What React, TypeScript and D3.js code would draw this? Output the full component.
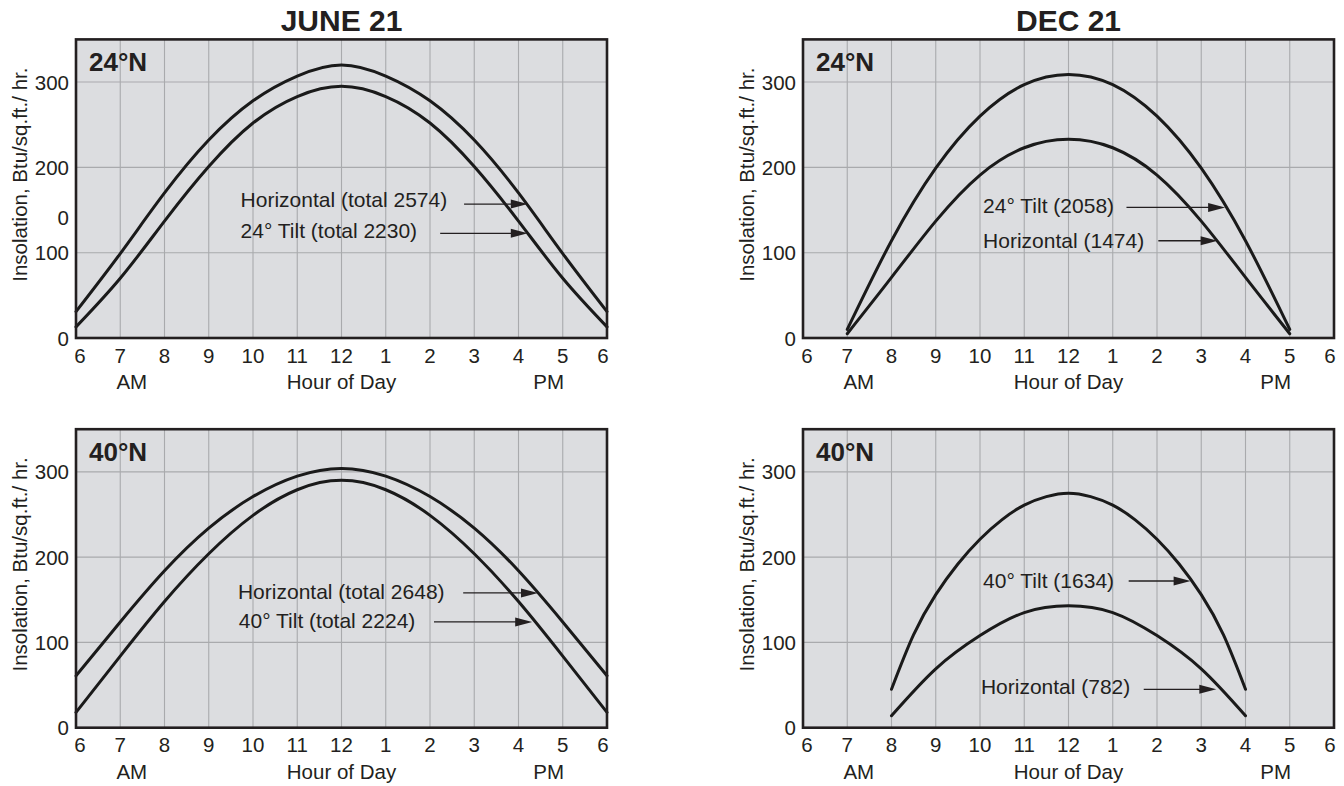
import React from "react";
import * as d3 from "d3";

// ---------- DATA ----------
const HOURS_FULL = [6, 7, 8, 9, 10, 11, 12, 13, 14, 15, 16, 17, 18];
const HOUR_LABELS = ["6", "7", "8", "9", "10", "11", "12", "1", "2", "3", "4", "5", "6"];
const Y_TICKS = [0, 100, 200, 300];

const june24Hours = [6, 7, 8, 9, 10, 11, 12, 13, 14, 15, 16, 17, 18];
const june24Horizontal = [31, 99, 170, 232, 278, 307, 320, 307, 278, 232, 170, 99, 31];
const june24Tilt = [13, 70, 137, 201, 252, 283, 295, 283, 252, 201, 137, 70, 13];

const dec24Hours = [7, 8, 9, 10, 11, 12, 13, 14, 15, 16, 17];
const dec24Tilt = [10, 114, 199, 260, 297, 309, 297, 260, 199, 114, 10];
const dec24Horizontal = [5, 71, 137, 191, 223, 233, 223, 191, 137, 71, 5];

const june40Hours = [6, 7, 8, 9, 10, 11, 12, 13, 14, 15, 16, 17, 18];
const june40Horizontal = [61, 124, 184, 234, 271, 295, 304, 295, 271, 234, 184, 124, 61];
const june40Tilt = [18, 84, 148, 204, 249, 279, 290, 279, 249, 204, 148, 84, 18];

const dec40TiltHours = [8, 8.5, 9, 9.5, 10, 10.5, 11, 11.5, 12, 12.5, 13, 13.5, 14, 14.5, 15, 15.5, 16];
const dec40Tilt = [45, 109, 156, 192, 221, 244, 261, 271, 275, 271, 261, 244, 221, 192, 156, 109, 45];
const dec40HorizontalHours = [8, 9, 10, 11, 12, 13, 14, 15, 16];
const dec40Horizontal = [14, 69, 108, 135, 143, 135, 108, 69, 14];

const COLUMN_TITLES = ["JUNE 21", "DEC 21"];
const Y_TITLE = "Insolation, Btu/sq.ft./ hr.";
const X_TITLE = "Hour of Day";

// ---------- LAYOUT ----------
const FONT = "'Liberation Sans', Arial, Helvetica, sans-serif";
const TEXT = "#231f20";
const COLS = [
  { x0: 76, x1: 607 },
  { x0: 803, x1: 1334 },
];
const ROWS = [
  { y0: 39.4, y1: 338 },
  { y0: 429.2, y1: 727.7 },
];

type Ann = { text: string; th: number; tv: number; a0: number; a1: number; av: number };
type Panel = {
  col: number;
  row: number;
  label: string;
  series: { hours: number[]; values: number[] }[];
  anns: Ann[];
  extraTicks?: { value: number; text: string }[];
};

const panels: Panel[] = [
  {
    col: 0,
    row: 0,
    label: "24°N",
    series: [
      { hours: june24Hours, values: june24Horizontal },
      { hours: june24Hours, values: june24Tilt },
    ],
    anns: [
      { text: "Horizontal (total 2574)", th: 9.72, tv: 153, a0: 14.77, a1: 16.21, av: 157 },
      { text: "24° Tilt (total 2230)", th: 9.72, tv: 117, a0: 14.23, a1: 16.21, av: 122.7 },
    ],
    extraTicks: [{ value: 141, text: "0" }],
  },
  {
    col: 1,
    row: 0,
    label: "24°N",
    series: [
      { hours: dec24Hours, values: dec24Tilt },
      { hours: dec24Hours, values: dec24Horizontal },
    ],
    anns: [
      { text: "24° Tilt (2058)", th: 10.07, tv: 146, a0: 13.31, a1: 15.54, av: 153 },
      { text: "Horizontal (1474)", th: 10.07, tv: 105, a0: 14.03, a1: 15.37, av: 114 },
    ],
  },
  {
    col: 0,
    row: 1,
    label: "40°N",
    series: [
      { hours: june40Hours, values: june40Horizontal },
      { hours: june40Hours, values: june40Tilt },
    ],
    anns: [
      { text: "Horizontal (total 2648)", th: 9.66, tv: 151, a0: 14.75, a1: 16.44, av: 158 },
      { text: "40° Tilt (total 2224)", th: 9.68, tv: 116.5, a0: 14.09, a1: 16.31, av: 124 },
    ],
  },
  {
    col: 1,
    row: 1,
    label: "40°N",
    series: [
      { hours: dec40TiltHours, values: dec40Tilt },
      { hours: dec40HorizontalHours, values: dec40Horizontal },
    ],
    anns: [
      { text: "40° Tilt (1634)", th: 10.07, tv: 164, a0: 13.36, a1: 14.76, av: 172 },
      { text: "Horizontal (782)", th: 10.02, tv: 40, a0: 13.7, a1: 15.34, av: 45 },
    ],
  },
];

function PanelView({ p }: { p: Panel }) {
  const c = COLS[p.col];
  const r = ROWS[p.row];
  const x = d3.scaleLinear().domain([6, 18]).range([c.x0, c.x1]);
  const y = d3.scaleLinear().domain([0, 350]).range([r.y1, r.y0]);
  const line = d3
    .line<[number, number]>()
    .x((d) => x(d[0]))
    .y((d) => y(d[1]))
    .curve(d3.curveNatural);

  const ticks = [...Y_TICKS.map((v) => ({ value: v, text: String(v) })), ...(p.extraTicks || [])];

  return (
    <g>
      <rect x={c.x0} y={r.y0} width={c.x1 - c.x0} height={r.y1 - r.y0} fill="#dcdde0" />
      {HOURS_FULL.slice(1, -1).map((h) => (
        <line key={"v" + h} x1={x(h)} x2={x(h)} y1={r.y0} y2={r.y1} stroke="#a9aaad" strokeWidth={1.1} />
      ))}
      {Y_TICKS.slice(1).map((v) => (
        <line key={"h" + v} x1={c.x0} x2={c.x1} y1={y(v)} y2={y(v)} stroke="#a9aaad" strokeWidth={1.1} />
      ))}
      {p.series.map((s, i) => (
        <path
          key={"s" + i}
          d={line(s.hours.map((h, k) => [h, s.values[k]] as [number, number])) || ""}
          fill="none"
          stroke="#1a1a1a"
          strokeWidth={3}
          strokeLinecap="round"
        />
      ))}
      {p.anns.map((a, i) => {
        const ay = y(a.av);
        const xe = x(a.a1);
        const L = 17;
        const W = 4.5;
        return (
          <g key={"a" + i}>
            <text x={x(a.th)} y={y(a.tv)} fontSize={21} fill={TEXT} fontFamily={FONT}>
              {a.text}
            </text>
            <line x1={x(a.a0)} x2={xe - L + 1} y1={ay} y2={ay} stroke="#231f20" strokeWidth={1.3} />
            <polygon points={`${xe},${ay} ${xe - L},${ay - W} ${xe - L},${ay + W}`} fill="#231f20" />
          </g>
        );
      })}
      <rect
        x={c.x0}
        y={r.y0}
        width={c.x1 - c.x0}
        height={r.y1 - r.y0}
        fill="none"
        stroke="#231f20"
        strokeWidth={2.6}
      />
      <text x={c.x0 + 13} y={r.y0 + 31.5} fontSize={26} fontWeight="bold" fill={TEXT} fontFamily={FONT}>
        {p.label}
      </text>
      {ticks.map((t, i) => (
        <text
          key={"yt" + i}
          x={c.x0 - 7}
          y={y(t.value) + 7.5}
          textAnchor="end"
          fontSize={20.5}
          fill={TEXT}
          fontFamily={FONT}
        >
          {t.text}
        </text>
      ))}
      {HOURS_FULL.map((h, i) => (
        <text
          key={"xt" + h}
          x={x(h) + (i === 0 ? 4 : i === HOURS_FULL.length - 1 ? -4 : 0)}
          y={r.y1 + 24.5}
          textAnchor="middle"
          fontSize={20.5}
          fill={TEXT}
          fontFamily={FONT}
        >
          {HOUR_LABELS[i]}
        </text>
      ))}
      <text x={x(7.26)} y={r.y1 + 51} textAnchor="middle" fontSize={20.5} fill={TEXT} fontFamily={FONT}>
        AM
      </text>
      <text x={x(12)} y={r.y1 + 51} textAnchor="middle" fontSize={20.5} fill={TEXT} fontFamily={FONT}>
        {X_TITLE}
      </text>
      <text x={x(16.68)} y={r.y1 + 51} textAnchor="middle" fontSize={20.5} fill={TEXT} fontFamily={FONT}>
        PM
      </text>
      <text
        transform={`translate(${c.x0 - 49},${(r.y0 + r.y1) / 2 - 14}) rotate(-90)`}
        textAnchor="middle"
        fontSize={20.5}
        fill={TEXT}
        fontFamily={FONT}
      >
        {Y_TITLE}
      </text>
    </g>
  );
}

export default function App() {
  return (
    <svg
      width={1344}
      height={786}
      style={{ position: "absolute", left: 0, top: 0, background: "#fff" }}
    >
      <rect width={1344} height={786} fill="#fff" />
      {COLUMN_TITLES.map((t, i) => (
        <text
          key={t}
          x={(COLS[i].x0 + COLS[i].x1) / 2}
          y={30.5}
          textAnchor="middle"
          fontSize={30}
          fontWeight="bold"
          fill={TEXT}
          fontFamily={FONT}
        >
          {t}
        </text>
      ))}
      {panels.map((p, i) => (
        <PanelView key={i} p={p} />
      ))}
    </svg>
  );
}
